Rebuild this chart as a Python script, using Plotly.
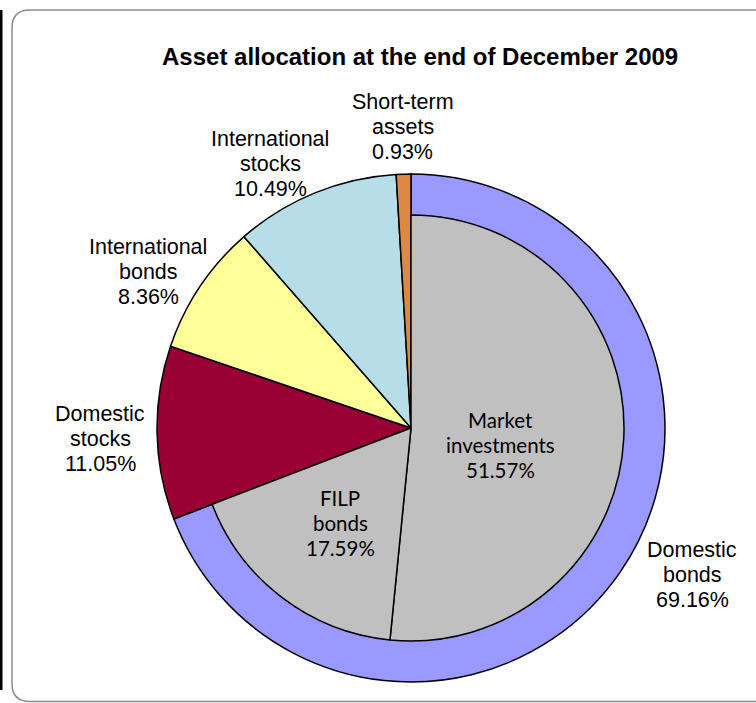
import plotly.graph_objects as go

# ---------------- data ----------------
title_text = "Asset allocation at the end of December 2009"

outer_labels = ["Domestic bonds", "Domestic stocks", "International bonds",
                "International stocks", "Short-term assets"]
outer_values = [69.16, 11.05, 8.36, 10.49, 0.93]
outer_colors = ["#9999FF", "#990033", "#FFFF99", "#B7DEE8", "#DD8843"]

inner_labels = ["Market investments", "FILP bonds"]
inner_values = [51.57, 17.59]
inner_colors = ["#C0C0C0", "#C0C0C0"]

# ---------------- layout geometry (pixels) ----------------
W, H = 756, 703
CX, CY = 411, 428          # pie centre
R_OUT, R_IN = 254, 213     # outer radius, inner (gray) radius

# label block anchors: (centre x, baseline of first line) in pixels
outer_label_pos = {
    "Domestic bonds": (692, 558),
    "Domestic stocks": (100, 422),
    "International bonds": (148, 255),
    "International stocks": (270, 147),
    "Short-term assets": (403, 110),
}
inner_label_pos = {
    "Market investments": (500, 427),
    "FILP bonds": (340, 505),
}
LINE_GAP = 25


def px(x):
    return x / W


def py(y):
    return 1 - y / H


def dom(r):
    return dict(x=[px(CX - r), px(CX + r)], y=[py(CY + r), py(CY - r)])


fig = go.Figure()

fig.add_trace(go.Pie(
    labels=outer_labels, values=outer_values, sort=False,
    direction="clockwise", rotation=0, textinfo="none",
    marker=dict(colors=outer_colors, line=dict(color="black", width=1.5)),
    domain=dom(R_OUT), showlegend=False, name="",
))

rest = sum(outer_values) - sum(inner_values)
fig.add_trace(go.Pie(
    labels=inner_labels + [" "], values=inner_values + [rest], sort=False,
    direction="clockwise", rotation=0, textinfo="none",
    marker=dict(colors=inner_colors + ["rgba(0,0,0,0)"],
                line=dict(color="black", width=[1.5, 1.5, 0])),
    domain=dom(R_IN), showlegend=False, name="",
))

annotations = []


def add_block(lines, cx, base, size, family):
    for i, t in enumerate(lines):
        b = base + i * LINE_GAP
        annotations.append(dict(
            x=px(cx), y=py(b - 0.35 * size), xref="paper", yref="paper",
            text=t, showarrow=False, xanchor="center", yanchor="middle",
            font=dict(family=family, size=size, color="black"),
        ))


for lab, val in zip(outer_labels, outer_values):
    cx, base = outer_label_pos[lab]
    add_block(lab.split(" ") + [f"{val:.2f}%"], cx, base, 21.5,
              "Liberation Sans, Arial, sans-serif")

for lab, val in zip(inner_labels, inner_values):
    cx, base = inner_label_pos[lab]
    add_block(lab.split(" ") + [f"{val:.2f}%"], cx, base, 20.5,
              "Lato, Open Sans, sans-serif")

annotations.append(dict(
    x=px(420.5), y=py(65 - 0.35 * 24), xref="paper", yref="paper",
    text="<b>" + title_text + "</b>", showarrow=False,
    xanchor="center", yanchor="middle",
    font=dict(family="Liberation Sans, Arial, sans-serif", size=24, color="black"),
))

# rounded frame
L, T, Rr, B, rad = 12, 10, W + 20, 701.5, 18
frame = (f"M {px(L)},{py(T + rad)} Q {px(L)},{py(T)} {px(L + rad)},{py(T)} "
         f"L {px(Rr)},{py(T)} L {px(Rr)},{py(B)} L {px(L + rad)},{py(B)} "
         f"Q {px(L)},{py(B)} {px(L)},{py(B - rad)} Z")

shapes = [
    dict(type="path", path=frame, xref="paper", yref="paper",
         line=dict(color="#8C8C8C", width=1.5), fillcolor="rgba(0,0,0,0)"),
    dict(type="rect", xref="paper", yref="paper", x0=0, x1=px(2.5),
         y0=py(690), y1=py(10), line=dict(width=0), fillcolor="black"),
]

fig.update_layout(
    width=W, height=H, margin=dict(l=0, r=0, t=0, b=0),
    paper_bgcolor="white", plot_bgcolor="white",
    annotations=annotations, shapes=shapes,
)

fig.write_html(
    "out.html",
    config={"displayModeBar": False},
    post_script="document.body.style.margin='0';document.body.style.overflow='hidden';",
)
